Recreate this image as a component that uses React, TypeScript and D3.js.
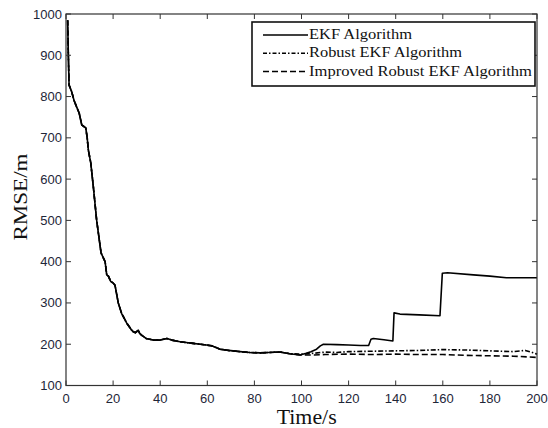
import React from "react";
import * as d3 from "d3";

// ---- data ----
const commonT = [0.7, 1, 1.3, 2.4, 3.4, 4.5, 5.6, 6.7, 7.5, 8.4, 9, 9.5, 10.5, 11.6, 13, 14.2, 14.9, 16.6, 17.3, 18, 19, 20.1, 20.8, 22.2, 23.6, 25.8, 27.9, 28.6, 29.5, 30.7, 31.3, 32.1, 34, 37.1, 40, 42.8, 45, 48.4, 51, 54, 57, 59.7, 62, 65.4, 69, 73.9, 78, 82.4, 86, 90.9, 95];
const commonV = [985, 900, 828, 812, 791, 775, 760, 731, 728, 724, 700, 670, 640, 582, 501, 450, 421, 400, 368, 365, 352, 348, 343, 300, 275, 251, 234, 230, 228, 234, 226, 222, 214, 210, 210, 214, 210, 206, 204, 202, 200, 198, 196, 188, 185, 182, 180, 179, 180, 181, 177];

const ekfT = [99.4, 102, 104, 106.4, 108, 109.3, 115, 120, 125, 128.5, 129.5, 130.5, 135, 138.8, 139.3, 141.8, 150, 158.8, 159.8, 162, 173, 180, 187, 200];
const ekfV = [174, 178, 182, 188, 196, 200, 199, 198, 197, 197, 212, 214, 211, 208, 276, 273, 271, 269, 372, 373, 368, 365, 361, 361];

const robustT = [99.4, 105, 110, 115, 120, 130, 140, 150, 160, 170, 180, 190, 195, 198, 200];
const robustV = [176, 178, 181, 180, 182, 183, 184, 185, 187, 186, 184, 182, 185, 180, 176];

const improvedT = [99.4, 105, 110, 120, 130, 140, 150, 160, 170, 180, 190, 200];
const improvedV = [174, 174, 175, 176, 175, 176, 175, 175, 173, 172, 171, 168];

const xTicks = [0, 20, 40, 60, 80, 100, 120, 140, 160, 180, 200];
const yTicks = [100, 200, 300, 400, 500, 600, 700, 800, 900, 1000];
const legendLabels = ["EKF Algorithm", "Robust EKF Algorithm", "Improved Robust EKF Algorithm"];

const W = 548, H = 428;
const L = 66, R = 537, T = 14, B = 385.5;

function pts(t1: number[], v1: number[], t2: number[], v2: number[]) {
  const a: [number, number][] = t1.map((t, i) => [t, v1[i]]);
  const b: [number, number][] = t2.map((t, i) => [t, v2[i]]);
  return a.concat(b);
}

export default function App() {
  const x = d3.scaleLinear().domain([0, 200]).range([L, R]);
  const y = d3.scaleLinear().domain([100, 1000]).range([B, T]);
  const line = d3.line<[number, number]>().x(d => x(d[0])).y(d => y(d[1]));

  const series = [
    { d: pts(commonT, commonV, ekfT, ekfV), dash: "none" },
    { d: pts(commonT, commonV, robustT, robustV), dash: "5,2,1.5,2" },
    { d: pts(commonT, commonV, improvedT, improvedV), dash: "6,3" },
  ];
  const legendDash = ["none", "4,2,1.5,2", "6,3"];
  const legendW = [103, 153, 223];
  const axisColor = "#333";
  const tickColor = "#1e2638";

  return (
    <svg width={W} height={H} style={{ position: "absolute", left: 0, top: 0, background: "#fff" }}>
      <rect x={0} y={0} width={W} height={H} fill="#fff" />
      {/* series */}
      {series.slice().reverse().map((s, i) => (
        <path key={i} d={line(s.d) || ""} fill="none" stroke="#000" strokeWidth={1.6}
          strokeDasharray={s.dash} strokeLinejoin="round" />
      ))}
      {/* frame */}
      <rect x={L} y={T} width={R - L} height={B - T} fill="none" stroke={axisColor} strokeWidth={1.2} />
      {xTicks.map(t => (
        <g key={"x" + t}>
          <line x1={x(t)} x2={x(t)} y1={B} y2={B - 5} stroke={axisColor} strokeWidth={1} />
          <line x1={x(t)} x2={x(t)} y1={T} y2={T + 5} stroke={axisColor} strokeWidth={1} />
          <text x={x(t)} y={402.5} textAnchor="middle" fontFamily="'Liberation Sans', Arial, sans-serif"
            fontSize={13} fill={tickColor}>{t}</text>
        </g>
      ))}
      {yTicks.map(v => (
        <g key={"y" + v}>
          <line x1={L} x2={L + 5} y1={y(v)} y2={y(v)} stroke={axisColor} strokeWidth={1} />
          <line x1={R} x2={R - 5} y1={y(v)} y2={y(v)} stroke={axisColor} strokeWidth={1} />
          <text x={62} y={y(v) + 4.5} textAnchor="end" fontFamily="'Liberation Sans', Arial, sans-serif"
            fontSize={13} fill={tickColor}>{v}</text>
        </g>
      ))}
      {/* axis labels */}
      <text x={306.7} y={424} textAnchor="middle" fontFamily="'Liberation Serif', 'Times New Roman', serif"
        fontSize={20} textLength={60} lengthAdjust="spacingAndGlyphs" fill="#111">Time/s</text>
      <text transform="translate(27,197) rotate(-90)" textAnchor="middle"
        fontFamily="'Liberation Serif', 'Times New Roman', serif" fontSize={19}
        textLength={87} lengthAdjust="spacingAndGlyphs" fill="#111">RMSE/m</text>
      {/* legend */}
      <rect x={252} y={22} width={283} height={64} fill="#fff" stroke="#111" strokeWidth={1.6} />
      {legendLabels.map((lab, i) => {
        const ly = 35 + i * 18.3;
        return (
          <g key={lab}>
            <line x1={263} x2={308} y1={ly} y2={ly} stroke="#000" strokeWidth={1.5} strokeDasharray={legendDash[i]} />
            <text x={309} y={ly + 4} fontFamily="'Liberation Serif', 'Times New Roman', serif" fontSize={14}
              textLength={legendW[i]} lengthAdjust="spacingAndGlyphs" fill="#111">{lab}</text>
          </g>
        );
      })}
    </svg>
  );
}
